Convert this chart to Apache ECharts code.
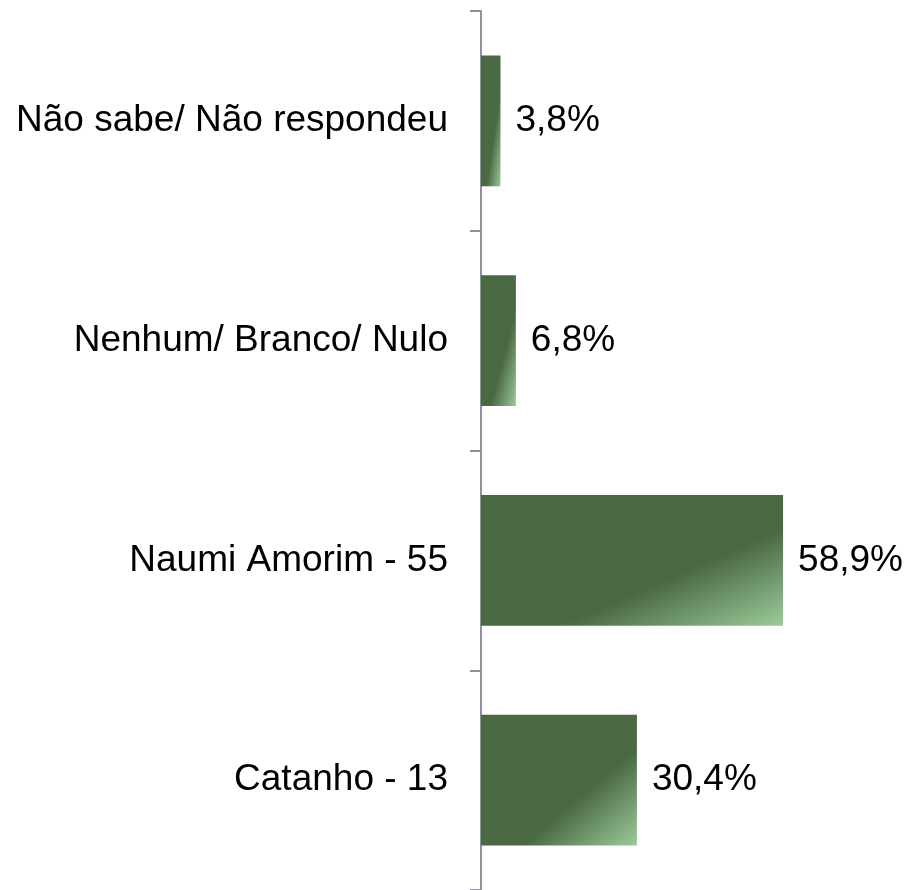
<!DOCTYPE html>
<html>
<head>
<meta charset="utf-8">
<script src="https://cdn.jsdelivr.net/npm/echarts@6/dist/echarts.min.js"></script>
<style>
html,body{margin:0;padding:0;background:#fff;}
#chart{width:909px;height:890px;}
</style>
</head>
<body>
<div id="chart"></div>
<script>
// Data (bottom to top on the category axis)
const categories = ['Catanho - 13', 'Naumi Amorim - 55', 'Nenhum/ Branco/ Nulo', 'Não sabe/ Não respondeu'];
const values = [30.4, 58.9, 6.8, 3.8];

const xMax = 70;
const gridLeft = 481, gridWidth = 359, gridTop = 11, gridHeight = 882;
const gapPct = 40.6;
const DARK = '#4a6842', LIGHT = '#9bca9a';

function barGradient(params) {
  const w = Math.max(1, params.value / xMax * gridWidth);
  const h = gridHeight / categories.length * (1 - gapPct / 100);
  const s = h * h + w * w;
  return new echarts.graphic.LinearGradient(0, 0, 2 * h * h / s, 2 * w * w / s, [
    { offset: 0, color: DARK },
    { offset: 0.63, color: DARK },
    { offset: 1, color: LIGHT }
  ]);
}

const chart = echarts.init(document.getElementById('chart'), null, { renderer: 'canvas' });
chart.setOption({
  animation: false,
  backgroundColor: '#ffffff',
  grid: { left: gridLeft, width: gridWidth, top: gridTop, height: gridHeight, containLabel: false },
  xAxis: {
    type: 'value', min: 0, max: xMax, show: false,
    splitLine: { show: false }
  },
  yAxis: {
    type: 'category',
    data: categories,
    axisLine: { show: true, lineStyle: { color: '#8c939f', width: 2 } },
    axisTick: { show: true, length: 11, lineStyle: { color: '#8c939f', width: 2 } },
    axisLabel: {
      margin: 33, fontSize: 37, color: '#000000',
      fontFamily: 'Arial, "Liberation Sans", sans-serif'
    },
    splitLine: { show: false }
  },
  series: [{
    type: 'bar',
    data: values,
    barCategoryGap: gapPct + '%',
    itemStyle: { color: barGradient },
    label: {
      show: true, position: 'right', distance: 15,
      fontSize: 37, color: '#000000',
      fontFamily: 'Arial, "Liberation Sans", sans-serif',
      formatter: p => p.value.toFixed(1).replace('.', ',') + '%'
    }
  }]
});
</script>
</body>
</html>
